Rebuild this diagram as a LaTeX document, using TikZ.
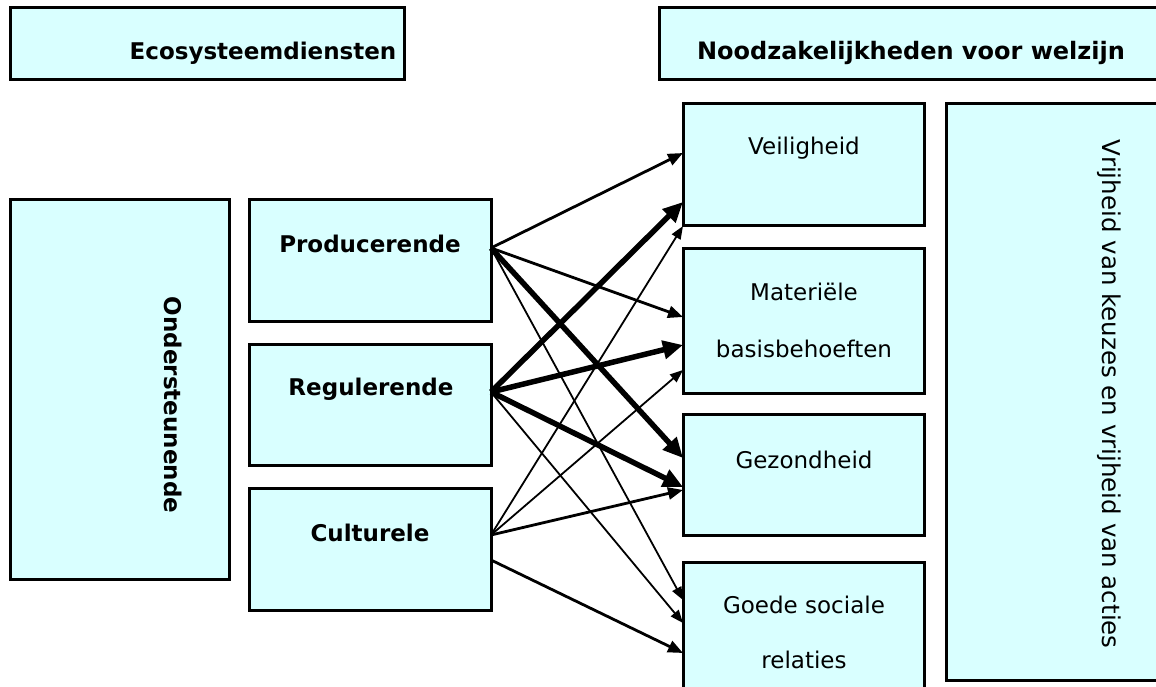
\documentclass[tikz,border=0pt]{standalone}
\usepackage{fontspec}
\setmainfont{DejaVu Sans}
\usetikzlibrary{arrows.meta,calc}
\definecolor{boxfill}{RGB}{217,255,255}
\begin{document}
\begin{tikzpicture}[x=1pt,y=-1pt,
  box/.style={draw=black,line width=3pt,fill=boxfill,inner sep=0pt,outer sep=0pt},
  bl/.style={font=\fontsize{23}{28}\selectfont\bfseries,inner sep=0pt},
  nl/.style={font=\fontsize{23}{28}\selectfont,inner sep=0pt},
  thinarr/.style={line width=1.8pt,-{Triangle[length=13pt,width=10pt]}},
  medarr/.style={line width=2.8pt,-{Triangle[length=15pt,width=12pt]}},
  thickarr/.style={line width=5.5pt,-{Triangle[length=20pt,width=18pt]}}]
\useasboundingbox (0,0) rectangle (1156,687);
% boxes
\node[box,minimum width=394pt,minimum height=72pt] (E) at (207,44) {};
\node[box,minimum width=503pt,minimum height=72pt] (N) at (910.5,44) {};
\node[box,minimum width=219pt,minimum height=379pt] (O) at (119.5,389.5) {};
\node[box,minimum width=242pt,minimum height=121pt] (P) at (370,260.5) {};
\node[box,minimum width=242pt,minimum height=121pt] (R) at (370,404.5) {};
\node[box,minimum width=242pt,minimum height=122pt] (C) at (370,549) {};
\node[box,minimum width=241pt,minimum height=121pt] (V) at (803.5,164.5) {};
\node[box,minimum width=241pt,minimum height=145pt] (M) at (803.5,320.5) {};
\node[box,minimum width=241pt,minimum height=121pt] (G) at (803.5,474.5) {};
\node[box,minimum width=241pt,minimum height=138pt] (S) at (803.5,631) {};
\node[box,minimum width=219pt,minimum height=576pt] (F) at (1055.5,392) {};
% texts
\node[bl] (Et) at (263,53) {Ecosysteemdiensten};
\node[bl,font=\fontsize{24}{28}\selectfont\bfseries] (Nt) at (911,53) {Noodzakelijkheden voor welzijn};
\node[bl,rotate=-90] (Ot) at (173,405) {Ondersteunende};
\node[bl] (Pt) at (370,244) {Producerende};
\node[bl] (Rt) at (371,389) {Regulerende};
\node[bl] (Ct) at (370,533) {Culturele};
\node[nl] (Vt) at (804,148) {Veiligheid};
\node[nl] (Mt1) at (804,292) {Materiële};
\node[nl] (Mt2) at (804,349) {basisbehoeften};
\node[nl] (Gt) at (804,460) {Gezondheid};
\node[nl] (St1) at (804,605) {Goede sociale};
\node[nl] (St2) at (804,660) {relaties};
\node[nl,font=\fontsize{24.5}{28}\selectfont,rotate=-90] (Ft) at (1109,394) {Vrijheid van keuzes en vrijheid van acties};
% source points
\coordinate (Ps) at ([yshift=-48pt]P.north east);
\coordinate (Rs) at ([yshift=-48pt]R.north east);
\coordinate (Cs) at ([yshift=-47pt]C.north east);
\coordinate (Cs2) at ([yshift=-72pt]C.north east);
% arrows
\draw[medarr] (Ps) -- ([yshift=-49pt]V.north west);
\draw[medarr] (Ps) -- ([yshift=-69pt]M.north west);
\draw[thickarr] (Ps) -- ([yshift=-44pt]G.north west);
\draw[thinarr] (Ps) -- ([yshift=-38pt]S.north west);
\draw[thickarr] (Rs) -- ([yshift=-98pt]V.north west);
\draw[thickarr] (Rs) -- ([yshift=-97pt]M.north west);
\draw[thickarr] (Rs) -- ([yshift=-73pt]G.north west);
\draw[thinarr] (Rs) -- ([yshift=-61pt]S.north west);
\draw[thinarr] (Cs) -- ([yshift=-122pt]V.north west);
\draw[thinarr] (Cs) -- ([yshift=-122pt]M.north west);
\draw[medarr] (Cs) -- ([yshift=-76pt]G.north west);
\draw[medarr] (Cs2) -- ([yshift=-91pt]S.north west);
\end{tikzpicture}
\end{document}
